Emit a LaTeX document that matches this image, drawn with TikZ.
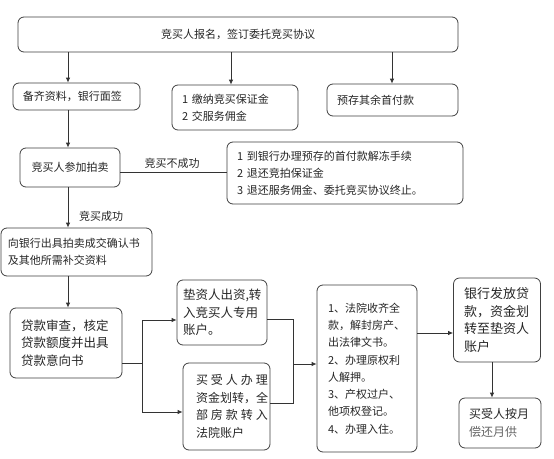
\documentclass[tikz,border=0pt]{standalone}
\usepackage{fontspec}
\newfontfamily\cjk{Noto Sans CJK SC}
\usetikzlibrary{arrows.meta}
\begin{document}
\begin{tikzpicture}[x=1pt,y=-1pt,
  bx/.style={draw=black!75, line width=0.8pt, rounded corners=6pt, inner sep=0pt, text=black!85},
  conn/.style={draw=black!80, line width=0.8pt},
  arr/.style={conn, -{Latex[length=5pt,width=4.5pt]}},
  lbl/.style={inner sep=0pt, text=black!85, font=\cjk\fontsize{11}{14}\selectfont},
  fa/.style={font=\cjk\fontsize{11}{17}\selectfont},
  fb/.style={font=\cjk\fontsize{12.5}{17.5}\selectfont},
  fc/.style={font=\cjk\fontsize{12}{17.5}\selectfont},
  fd/.style={font=\cjk\fontsize{11}{17.3}\selectfont},
  fe/.style={font=\cjk\fontsize{13}{17.5}\selectfont}]
\useasboundingbox (0,0) rectangle (554,458);
\fill[white] (0,0) rectangle (554,458);

\node[bx, fa, minimum width=440pt, minimum height=35pt, text width=420pt, align=center] (top) at (238,34.5) {竞买人报名，签订委托竞买协议};
\node[bx, fa, minimum width=127pt, minimum height=27pt, text width=107pt, align=left] (bei) at (76.5,96.5) {备齐资料，银行面签};
\node[bx, fa, minimum width=126pt, minimum height=45pt, text width=106pt, align=left] (jiao) at (235,107.5) {1 缴纳竞买保证金\\2 交服务佣金};
\node[bx, fa, minimum width=131pt, minimum height=32pt, text width=111pt, align=left] (yu) at (392.5,100) {预存其余首付款};
\node[bx, fa, minimum width=100pt, minimum height=39pt, text width=84pt, align=center] (pai) at (70,167.5) {竞买人参加拍卖\\[3pt]};
\node[bx, fa, minimum width=236pt, minimum height=62pt, text width=216pt, align=left] (fail) at (345,173) {1 到银行办理预存的首付款解冻手续\\2 退还竞拍保证金\\3 退还服务佣金、委托竞买协议终止。};
\node[bx, fa, minimum width=151pt, minimum height=48pt, text width=137pt, align=left] (xiang) at (76.5,252) {向银行出具拍卖成交确认书\\及其他所需补交资料};
\node[bx, fb, minimum width=112pt, minimum height=70pt, text width=90pt, align=left] (dai) at (66,343) {贷款审查，核定\\贷款额度并出具\\贷款意向书};
\node[bx, fb, minimum width=90pt, minimum height=65pt, text width=78pt, align=left] (dian) at (222,312.5) {垫资人出资,转\\入竞买人专用\\账户。};
\node[bx, fc, minimum width=87pt, minimum height=87pt, align=left] (mai) at (226.5,406.5) {\hspace*{11pt}\parbox[c]{72pt}{\makebox[72pt][s]{买\hfill 受\hfill 人\hfill 办\hfill 理}\\资金划转，全\\\makebox[72pt][s]{部\hfill 房\hfill 款\hfill 转\hfill 入}\\法院账户}};
\node[bx, fd, minimum width=100pt, minimum height=167pt, text width=78pt, align=left] (law) at (367,368.5) {1、法院收齐全\\款，解封房产、\\出法律文书。\\2、办理原权利\\人解押。\\3、产权过户、\\他项权登记。\\4、办理入住。\\[6pt]};
\node[bx, fe, minimum width=87pt, minimum height=84pt, text width=66pt, align=left] (bank) at (497,320) {银行发放贷\\款，资金划\\转至垫资人\\账户};
\node[bx, fc, minimum width=82pt, minimum height=50pt, text width=62pt, align=left] (last) at (500,423) {买受人按月\\{\color{black!60}偿还月供}};

\node[lbl] (lfail) at (172,163) {竞买不成功};
\node[lbl] (lsucc) at (101,216) {竞买成功};

\draw[arr] (top.south -| 68,0) -- (bei.north -| 68,0);
\draw[arr] (top.south -| 231,0) -- (jiao.north -| 231,0);
\draw[arr] (top.south -| 392,0) -- (yu.north -| 392,0);
\draw[arr] (bei.south -| 68,0) -- (pai.north -| 68,0);
\draw[conn] (pai.east |- 0,172) -- (fail.west |- 0,172);
\draw[arr] (pai.south -| 68,0) -- (xiang.north -| 68,0);
\draw[arr] (xiang.south -| 68,0) -- (dai.north -| 68,0);
\coordinate (s1) at (142,363);
\draw[conn] (dai.east |- s1) -- (s1);
\draw[arr] (s1) |- (dian.west |- 0,320);
\draw[arr] (s1) |- (mai.west |- 0,412);
\coordinate (j) at (293,364);
\draw[conn] (dian.east |- 0,319) -| (j);
\draw[conn] (mai.east |- 0,403) -| (j);
\draw[arr] (j) -- (law.west |- j);
\draw[arr] (law.east |- 0,333) -- (bank.west |- 0,333);
\draw[arr] (bank.south -| 492,0) -- (last.north -| 492,0);
\end{tikzpicture}
\end{document}
